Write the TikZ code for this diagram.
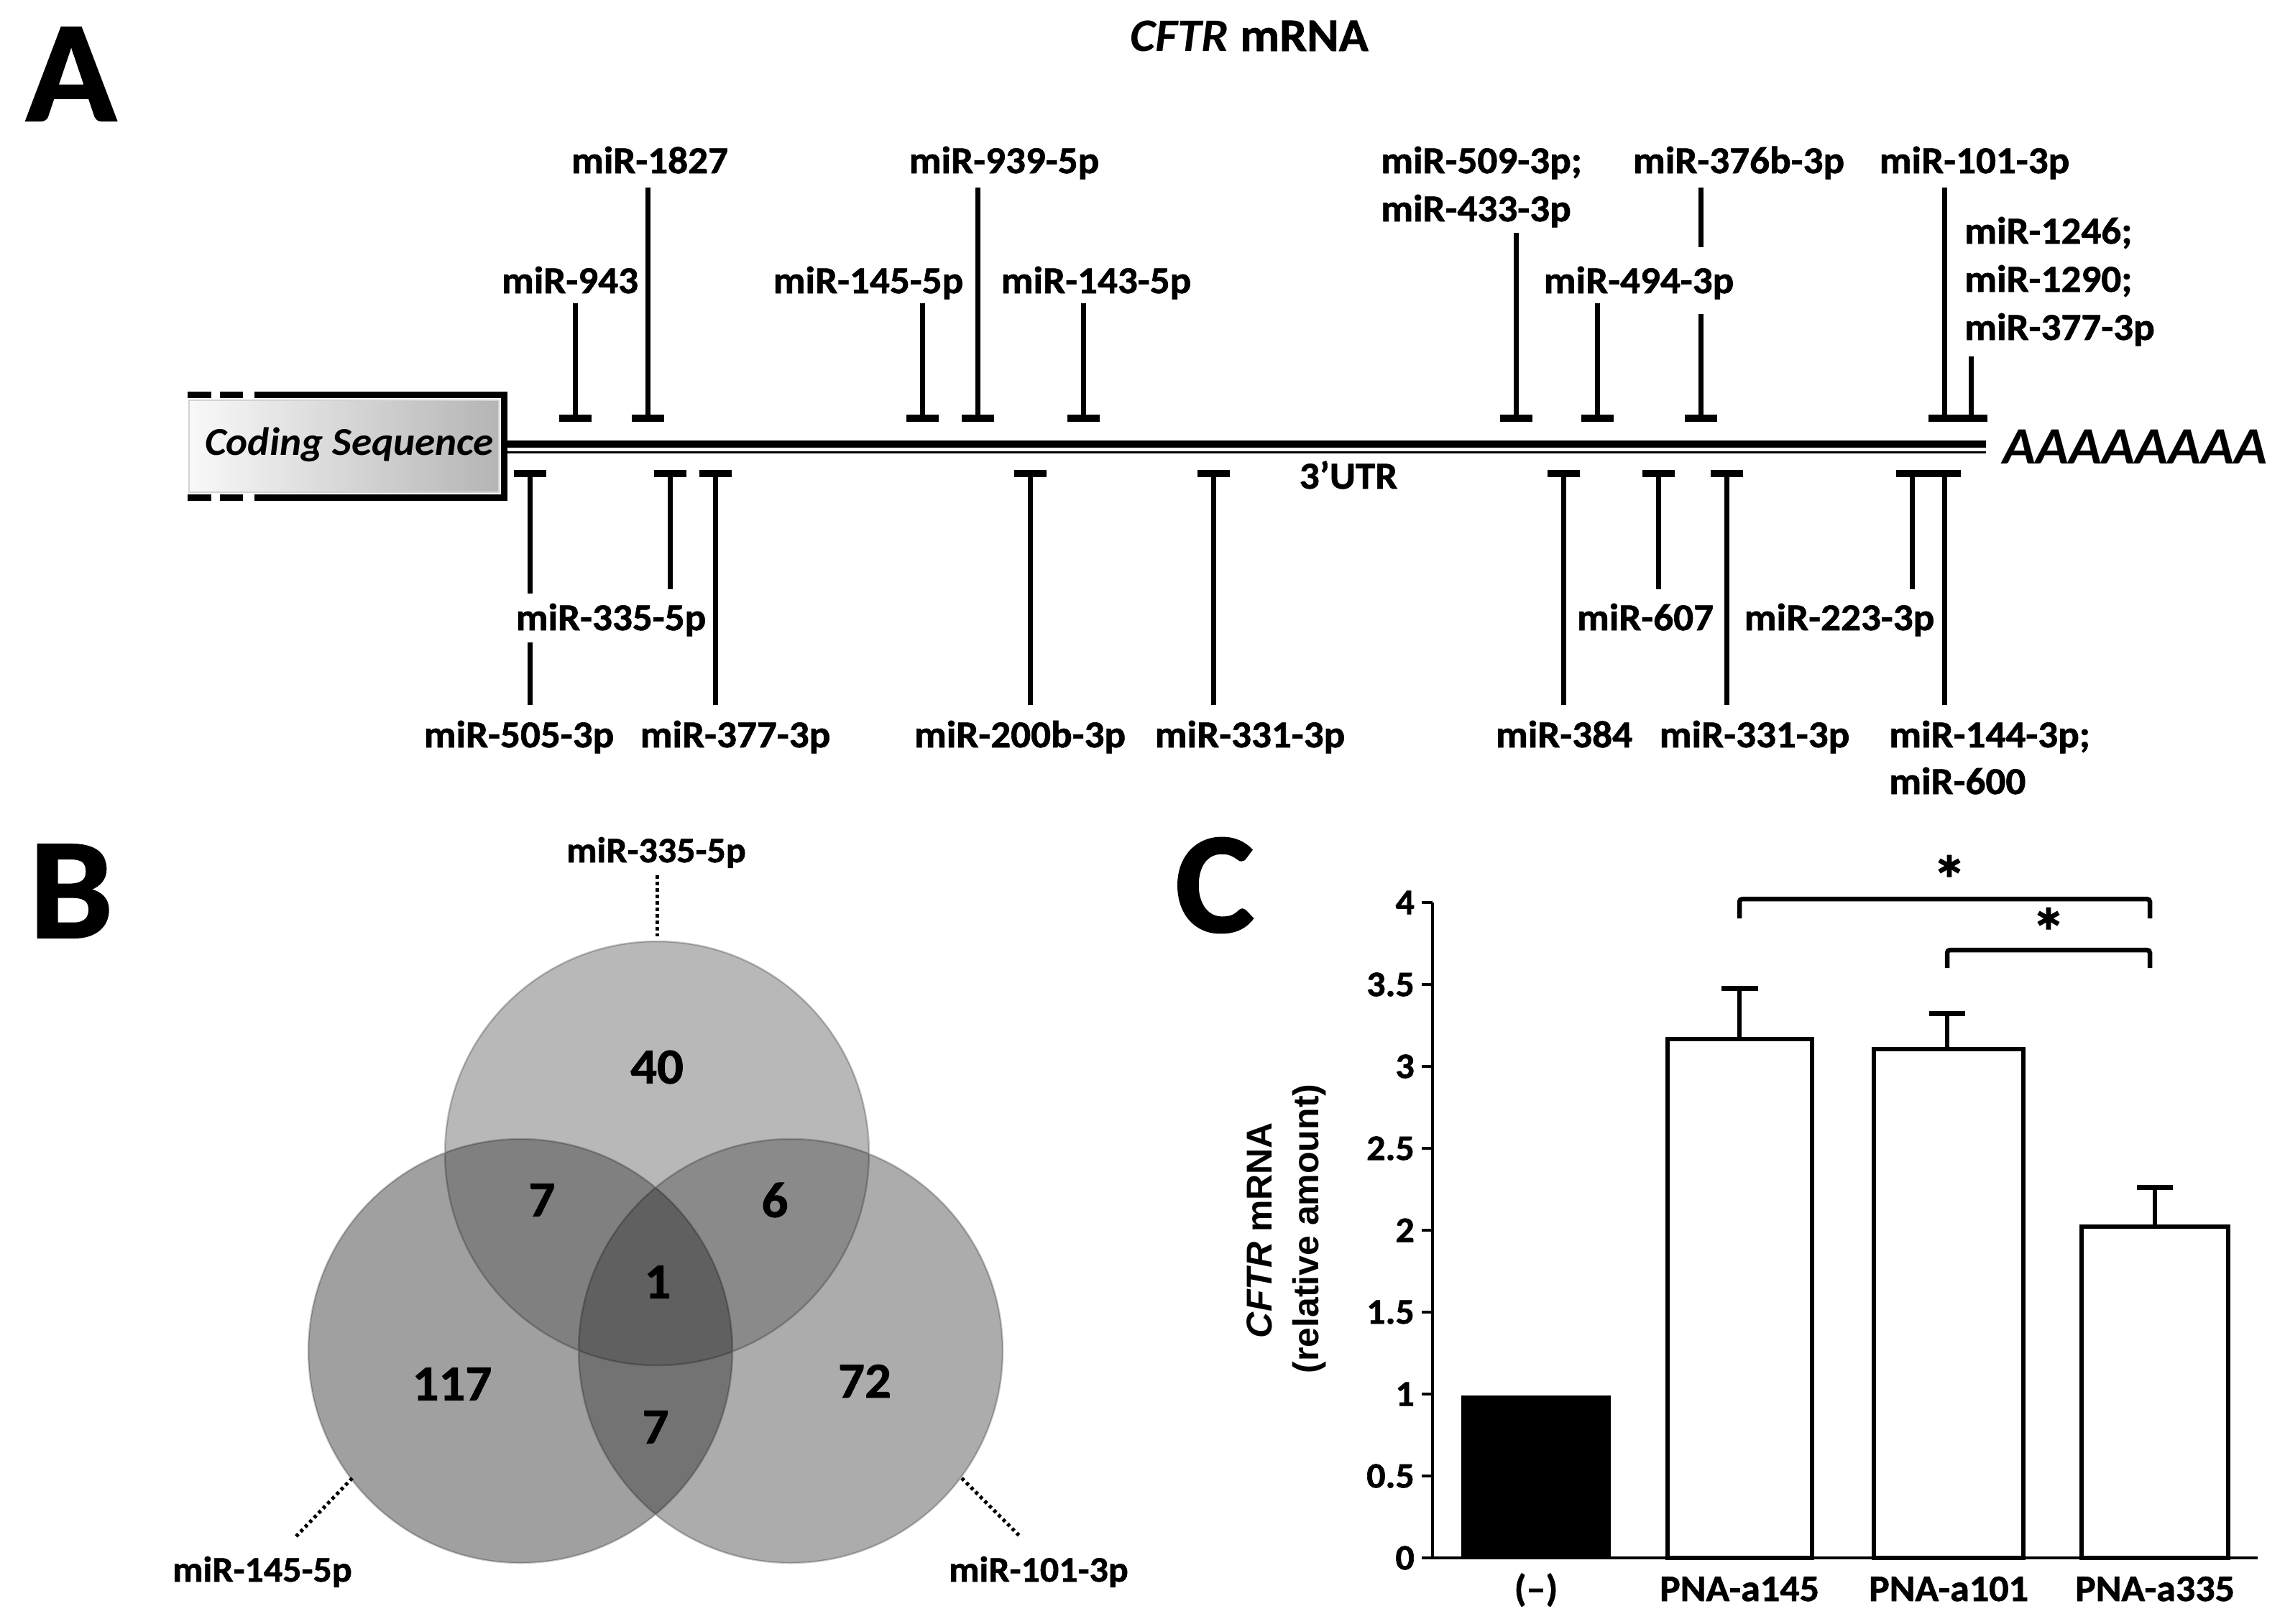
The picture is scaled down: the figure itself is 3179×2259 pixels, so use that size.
\documentclass[tikz,border=0pt]{standalone}
\usepackage{fontspec}
\setmainfont{Carlito}[FakeStretch=1.04, BoldFeatures={FakeBold=1.2}]
\newfontfamily\arialb{Liberation Sans}[UprightFont={* Bold}, ItalicFont={* Bold Italic}]
\definecolor{vT}{RGB}{184,184,184}
\definecolor{vL}{RGB}{160,160,160}
\definecolor{vR}{RGB}{172,172,172}
\definecolor{vTL}{RGB}{128,128,128}
\definecolor{vTR}{RGB}{138,138,138}
\definecolor{vLR}{RGB}{115,115,115}
\definecolor{vC}{RGB}{96,96,96}
\begin{document}
\begin{tikzpicture}[x=1pt,y=-1pt,
  lab/.style={font=\fontsize{53}{59}\selectfont\bfseries, inner sep=0pt, anchor=base},
  labl/.style={lab, anchor=base west},
  vlab/.style={font=\fontsize{50}{57}\selectfont\bfseries, inner sep=0pt, anchor=base},
  num/.style={font=\fontsize{70}{70}\selectfont\bfseries, inner sep=0pt},
  panel/.style={font=\fontsize{200}{200}\selectfont\bfseries, inner sep=0pt},
  stem/.style={line width=7pt},
  tbar/.style={line width=9.5pt},
  bbar/.style={line width=10pt},
  dots/.style={line width=5pt, dash pattern=on 4.5pt off 4.5pt},
  ticklab/.style={font=\fontsize{50}{50}\selectfont\bfseries, inner sep=0pt, anchor=east},
  xlab/.style={font=\fontsize{52}{52}\selectfont\bfseries, inner sep=0pt, anchor=base},
  axisl/.style={line width=4pt},
  barout/.style={line width=5.5pt, fill=white},
  errl/.style={line width=5.5pt},
  errcap/.style={line width=7pt},
  brk/.style={line width=6.5pt, rounded corners=4pt},
  star/.style={font=\fontsize{92}{92}\selectfont\bfseries, inner sep=0pt, anchor=base}
]
\useasboundingbox (0,0) rectangle (3179,2259);
\fill[white] (0,0) rectangle (3179,2259);

% ---------------- Panel A ----------------
\node[panel] (pA) at (99,103) {A};
\node[font=\fontsize{65}{65}\selectfont\bfseries, inner sep=0pt, anchor=base] (title) at (1738,71) {\textit{CFTR} mRNA};

% coding sequence box
\shade[left color=gray!5, right color=gray!58] (263,557) rectangle (694,685);
\draw[gray!35, line width=2pt] (263,557) rectangle (694,685);
\draw[line width=9pt] (261,549.5) -- (294,549.5) (306,549.5) -- (338,549.5);
\draw[line width=9pt] (261,692.5) -- (294,692.5) (306,692.5) -- (338,692.5);
\draw[line width=9pt] (354,549.5) -- (701.5,549.5) -- (701.5,692.5) -- (354,692.5);
\node[font=\fontsize{55}{55}\selectfont\bfseries\itshape, inner sep=0pt, anchor=base] (cds) at (486,633) {Coding Sequence};

% mRNA
\coordinate (m0) at (706,618);
\coordinate (m1) at (2763,618);
\draw[line width=10pt] (m0) -- (m1);
\draw[line width=3pt] (706,629) -- (2763,629);
\node[font=\fontsize{73}{73}\selectfont\bfseries\itshape, inner sep=0pt, anchor=base] (polyA) at (2970,645) {AAAAAAAA};
\node[lab] (utr) at (1876,680) {3’UTR};

% top inhibitors
\foreach \x/\y in {901/261, 1360/261, 2705/261, 800/422, 1283/422, 1507/422, 2222/422, 2109/324, 2742/496} {
  \draw[stem] (\x,\y) -- (\x,582);
  \draw[tbar] (\x-22.5,582) -- (\x+22.5,582);
}
\draw[stem] (2366,261) -- (2366,344) (2366,437) -- (2366,582);
\draw[tbar] (2343.5,582) -- (2388.5,582);

% bottom inhibitors
\foreach \x/\y in {932/820, 2307/820, 2660/820, 995/981, 1433/981, 1688/981, 2175/981, 2402/981, 2705/981} {
  \draw[stem] (\x,659) -- (\x,\y);
  \draw[bbar] (\x-22.5,659) -- (\x+22.5,659);
}
\draw[stem] (737,659) -- (737,826) (737,894) -- (737,981);
\draw[bbar] (714.5,659) -- (759.5,659);

% top labels
\node[lab] (t1827) at (904,241) {miR-1827};
\node[lab] (t939) at (1397,241) {miR-939-5p};
\node[lab] (t376) at (2419,241) {miR-376b-3p};
\node[lab] (t101) at (2747,241) {miR-101-3p};
\node[lab] (t943) at (793,408) {miR-943};
\node[lab] (t145) at (1208,408) {miR-145-5p};
\node[lab] (t143) at (1525,408) {miR-143-5p};
\node[lab] (t494) at (2280,408) {miR-494-3p};
\node[labl] (t509) at (1921,241) {miR-509-3p;};
\node[labl] (t433) at (1921,308) {miR-433-3p};
\node[labl] (t1246) at (2733,339) {miR-1246;};
\node[labl] (t1290) at (2733,406) {miR-1290;};
\node[labl] (t377t) at (2733,473) {miR-377-3p};

% bottom labels
\node[lab] (b335) at (850,877) {miR-335-5p};
\node[lab] (b607) at (2289,877) {miR-607};
\node[lab] (b223) at (2559,877) {miR-223-3p};
\node[lab] (b505) at (722,1040) {miR-505-3p};
\node[lab] (b377) at (1023,1040) {miR-377-3p};
\node[lab] (b200) at (1419,1040) {miR-200b-3p};
\node[lab] (b331a) at (1739,1040) {miR-331-3p};
\node[lab] (b384) at (2176,1040) {miR-384};
\node[lab] (b331b) at (2441,1040) {miR-331-3p};
\node[labl] (b144) at (2628,1040) {miR-144-3p;};
\node[labl] (b600) at (2628,1105) {miR-600};

% ---------------- Panel B ----------------
\node[panel] (pB) at (99,1240) {B};
\coordinate (cT) at (914,1605);
\coordinate (cL) at (724,1880);
\coordinate (cR) at (1100,1880);
\fill[vT] (cT) circle (295);
\fill[vL] (cL) circle (295);
\fill[vR] (cR) circle (295);
\begin{scope}\clip (cT) circle (295); \fill[vTL] (cL) circle (295);\end{scope}
\begin{scope}\clip (cT) circle (295); \fill[vTR] (cR) circle (295);\end{scope}
\begin{scope}\clip (cL) circle (295); \fill[vLR] (cR) circle (295);\end{scope}
\begin{scope}\clip (cT) circle (295); \clip (cL) circle (295); \fill[vC] (cR) circle (295);\end{scope}
\draw[black, opacity=0.22, line width=2.5pt] (cT) circle (295) (cL) circle (295) (cR) circle (295);

\node[num] (n40) at (914,1485) {40};
\node[num] (n7a) at (754,1670) {7};
\node[num] (n6) at (1078,1670) {6};
\node[num] (n1) at (915,1784) {1};
\node[num] (n117) at (629,1926) {117};
\node[num] (n72) at (1203,1922) {72};
\node[num] (n7b) at (912,1986) {7};

\node[vlab] (v335) at (913,1200) {miR-335-5p};
\node[vlab] (v145) at (365,2201) {miR-145-5p};
\node[vlab] (v101) at (1445,2201) {miR-101-3p};
\coordinate (d1a) at (914,1218); \coordinate (d1b) at (914,1303);
\coordinate (d2a) at (490,2057); \coordinate (d2b) at (412,2138);
\coordinate (d3a) at (1338,2057); \coordinate (d3b) at (1419,2138);
\draw[dots] (d1a) -- (d1b);
\draw[dots] (d2a) -- (d2b);
\draw[dots] (d3a) -- (d3b);

% ---------------- Panel C ----------------
\node[panel] (pC) at (1690,1232) {C};
\foreach \v in {0,0.5,1,1.5,2,2.5,3,3.5,4} {
  \draw[axisl] (1978,{2168-228*\v}) -- (1993,{2168-228*\v});
  \node[ticklab] at (1968,{2168-228*\v}) {\v};
}
% bars
\fill[black] (2033,1942) rectangle (2241,2168);
\draw[barout] (2320,2168) rectangle (2521,1446);
\draw[barout] (2607,2168) rectangle (2815,1460);
\draw[barout] (2896,2168) rectangle (3100,1707);
% error bars
\draw[errl] (2420,1446) -- (2420,1375); \draw[errcap] (2395,1375) -- (2446,1375);
\draw[errl] (2709,1460) -- (2709,1410); \draw[errcap] (2684,1410) -- (2734,1410);
\draw[errl] (2998,1707) -- (2998,1652); \draw[errcap] (2973,1652) -- (3023,1652);
% axes
\draw[axisl] (1993,1256) -- (1993,2168) -- (3141,2168);
% x labels
\node[xlab] (x0) at (2137,2228) {(–)};
\node[xlab] (x1) at (2420,2228) {PNA-a145};
\node[xlab] (x2) at (2711,2228) {PNA-a101};
\node[xlab] (x3) at (2998,2228) {PNA-a335};
% y label
\node[inner sep=0pt, rotate=90] (yl1) at (1752,1712) {\arialb\fontsize{50}{50}\selectfont\itshape CFTR\upshape{} mRNA};
\node[inner sep=0pt, rotate=90] (yl2) at (1822,1710) {\arialb\fontsize{50}{50}\selectfont (relative amount)};
% significance
\draw[brk] (2420,1278) -- (2420,1251) -- (2991,1251) -- (2991,1278);
\draw[brk] (2709,1347) -- (2709,1322) -- (2991,1322) -- (2991,1347);
\node[star] (s1) at (2712,1256) {*};
\node[star] (s2) at (2850,1329) {*};
\end{tikzpicture}
\end{document}
